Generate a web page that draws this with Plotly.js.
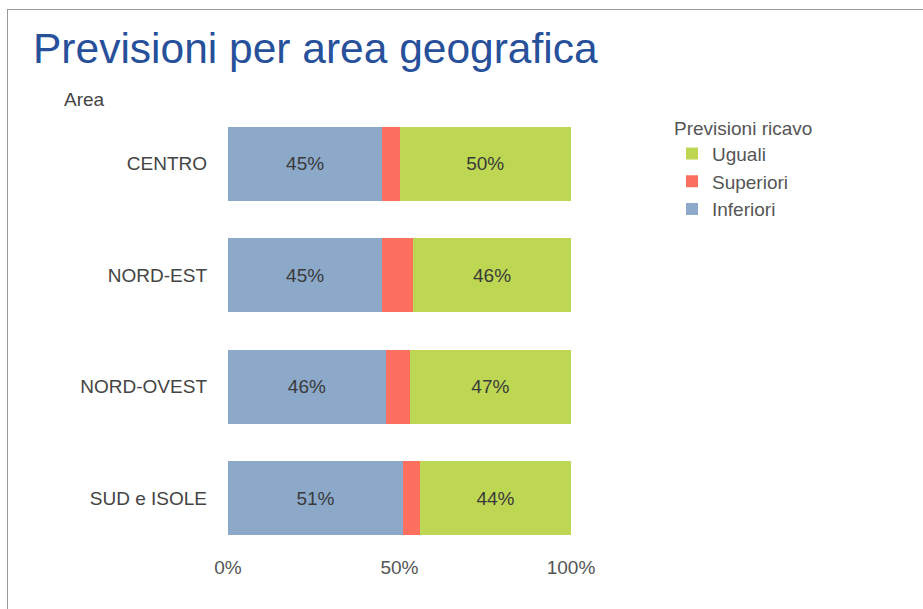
<!DOCTYPE html>
<html>
<head>
<meta charset="utf-8">
<script src="https://cdn.plot.ly/plotly-3.0.1.min.js"></script>
<style>
html,body{margin:0;padding:0;background:#fff;}
#frame{position:absolute;left:7px;top:9px;width:916px;height:600px;border-top:1px solid #9a9a9a;border-left:1px solid #9a9a9a;}
#chart{position:absolute;left:0;top:0;width:923px;height:609px;}
</style>
</head>
<body>
<div id="frame"></div>
<div id="chart"></div>
<script>
const categories = ["CENTRO", "NORD-EST", "NORD-OVEST", "SUD e ISOLE"];
const inferiori = [45, 45, 46, 51];
const superiori = [5, 9, 7, 5];
const uguali = [50, 46, 47, 44];
const xTickVals = [0, 50, 100];
const xTickText = ["0%", "50%", "100%"];

const colors = {inferiori: "#8ca9ca", superiori: "#fd7060", uguali: "#bdd753"};
const FONT = "Liberation Sans, Arial, sans-serif";
const labelFont = {family: FONT, size: 19, color: "#3a3a3a"};

function barTrace(name, vals, color, showText) {
  return {
    type: "bar", orientation: "h", name: name,
    y: categories, x: vals,
    marker: {color: color, line: {width: 0}},
    text: showText ? vals.map(v => v + "%") : undefined,
    textposition: showText ? "inside" : "none",
    insidetextanchor: "middle",
    textfont: labelFont,
    hoverinfo: "name+x"
  };
}

const data = [
  barTrace("Inferiori", inferiori, colors.inferiori, true),
  barTrace("Superiori", superiori, colors.superiori, false),
  barTrace("Uguali", uguali, colors.uguali, true)
];

const layout = {
  width: 923, height: 609,
  paper_bgcolor: "rgba(0,0,0,0)", plot_bgcolor: "rgba(0,0,0,0)",
  barmode: "stack", bargap: 0.335,
  margin: {l: 228, r: 352, t: 108, b: 55, pad: 0},
  font: {family: FONT, color: "#444"},
  title: {
    text: "Previsioni per area geografica",
    font: {family: FONT, size: 42.5, color: "#27509b"},
    x: 33/923, xanchor: "left", xref: "container",
    y: 1 - 48/609, yanchor: "middle", yref: "container"
  },
  xaxis: {
    range: [0, 100], tickvals: xTickVals, ticktext: xTickText,
    showgrid: false, zeroline: false, showline: false,
    ticks: "", 
    tickfont: {size: 19, color: "#555"}, fixedrange: true
  },
  yaxis: {
    autorange: "reversed", showgrid: false, zeroline: false, showline: false,
    ticks: "", ticklabelstandoff: 20,
    tickfont: {size: 19, color: "#444"}, fixedrange: true
  },
  legend: {
    x: (672-228)/343, xanchor: "left", y: (554-110)/446, yanchor: "top",
    traceorder: "reversed", tracegroupgap: 0,
    title: {text: "Previsioni ricavo", font: {size: 19, color: "#555"}},
    font: {size: 19, color: "#555"}, itemwidth: 30, bgcolor: "rgba(0,0,0,0)"
  },
  annotations: [{
    text: "Area", xref: "paper", yref: "paper",
    x: -166/343, y: (554-99)/446, xanchor: "left", yanchor: "middle",
    showarrow: false, font: {size: 19, color: "#444"}
  }]
};

Plotly.newPlot("chart", data, layout, {displayModeBar: false, staticPlot: true});
</script>
</body>
</html>
